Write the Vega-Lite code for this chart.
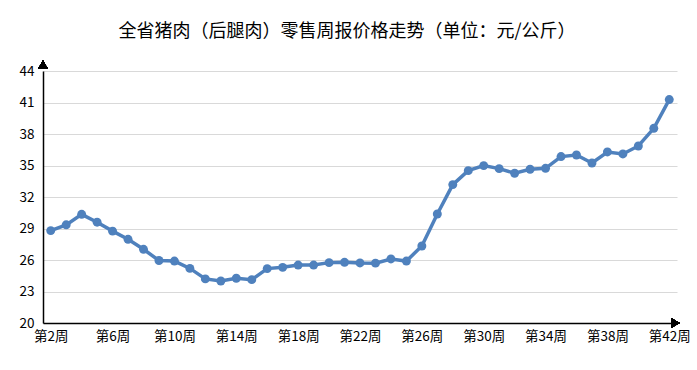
{
  "$schema": "https://vega.github.io/schema/vega-lite/v6.json",
  "width": 634,
  "height": 252,
  "autosize": {"type": "none"},
  "padding": {"left": 43, "top": 71, "right": 20, "bottom": 47},
  "background": "white",
  "title": {
    "text": "全省猪肉（后腿肉）零售周报价格走势（单位：元/公斤）",
    "font": "Noto Sans CJK SC",
    "fontSize": 18,
    "fontWeight": "normal",
    "color": "#000000",
    "anchor": "middle",
    "dx": -13,
    "offset": 20
  },
  "config": {
    "view": {"stroke": null},
    "axis": {"labelFont": "Noto Sans CJK SC", "labelFontSize": 13.5, "labelColor": "#000000"}
  },
  "data": {
    "values": [
      {"week": 2, "price": 28.8},
      {"week": 3, "price": 29.35},
      {"week": 4, "price": 30.35},
      {"week": 5, "price": 29.6},
      {"week": 6, "price": 28.75},
      {"week": 7, "price": 27.97},
      {"week": 8, "price": 27.02},
      {"week": 9, "price": 25.95},
      {"week": 10, "price": 25.9},
      {"week": 11, "price": 25.2},
      {"week": 12, "price": 24.2},
      {"week": 13, "price": 24.0},
      {"week": 14, "price": 24.26},
      {"week": 15, "price": 24.13},
      {"week": 16, "price": 25.18},
      {"week": 17, "price": 25.3},
      {"week": 18, "price": 25.52},
      {"week": 19, "price": 25.52},
      {"week": 20, "price": 25.75},
      {"week": 21, "price": 25.78},
      {"week": 22, "price": 25.72},
      {"week": 23, "price": 25.7},
      {"week": 24, "price": 26.1},
      {"week": 25, "price": 25.9},
      {"week": 26, "price": 27.33},
      {"week": 27, "price": 30.38},
      {"week": 28, "price": 33.18},
      {"week": 29, "price": 34.51},
      {"week": 30, "price": 34.99},
      {"week": 31, "price": 34.7},
      {"week": 32, "price": 34.26},
      {"week": 33, "price": 34.64},
      {"week": 34, "price": 34.73},
      {"week": 35, "price": 35.85},
      {"week": 36, "price": 36.0},
      {"week": 37, "price": 35.24},
      {"week": 38, "price": 36.29},
      {"week": 39, "price": 36.1},
      {"week": 40, "price": 36.86},
      {"week": 41, "price": 38.54},
      {"week": 42, "price": 41.28}
    ]
  },
  "encoding": {
    "x": {
      "field": "week",
      "type": "quantitative",
      "scale": {"domain": [1.5, 42.5], "nice": false, "zero": false},
      "axis": {
        "title": null,
        "values": [2, 6, 10, 14, 18, 22, 26, 30, 34, 38, 42],
        "labelExpr": "'第' + datum.value + '周'",
        "grid": false,
        "ticks": false,
        "domainColor": "#000000",
        "domainWidth": 1.5,
        "labelPadding": 6,
        "labelFlush": false,
        "labelOverlap": false
      }
    },
    "y": {
      "field": "price",
      "type": "quantitative",
      "scale": {"domain": [20, 44], "nice": false, "zero": false},
      "axis": {
        "title": null,
        "values": [20, 23, 26, 29, 32, 35, 38, 41, 44],
        "grid": true,
        "gridColor": "#d9d9d9",
        "gridWidth": 1,
        "ticks": false,
        "domainColor": "#000000",
        "domainWidth": 1.5,
        "labelPadding": 9
      }
    }
  },
  "layer": [
    {
      "mark": {"type": "line", "color": "#4f81bd", "strokeWidth": 3.5}
    },
    {
      "mark": {"type": "point", "filled": true, "color": "#4f81bd", "size": 80, "opacity": 1}
    },
    {
      "mark": {"type": "point", "shape": "triangle-up", "filled": true, "color": "#000000", "size": 90, "opacity": 1},
      "encoding": {"x": {"datum": 1.5, "type": "quantitative"}, "y": {"datum": 44.6, "type": "quantitative"}}
    },
    {
      "mark": {"type": "point", "shape": "triangle-right", "filled": true, "color": "#000000", "size": 90, "opacity": 1},
      "encoding": {"x": {"datum": 42.4, "type": "quantitative"}, "y": {"datum": 20, "type": "quantitative"}}
    }
  ]
}
